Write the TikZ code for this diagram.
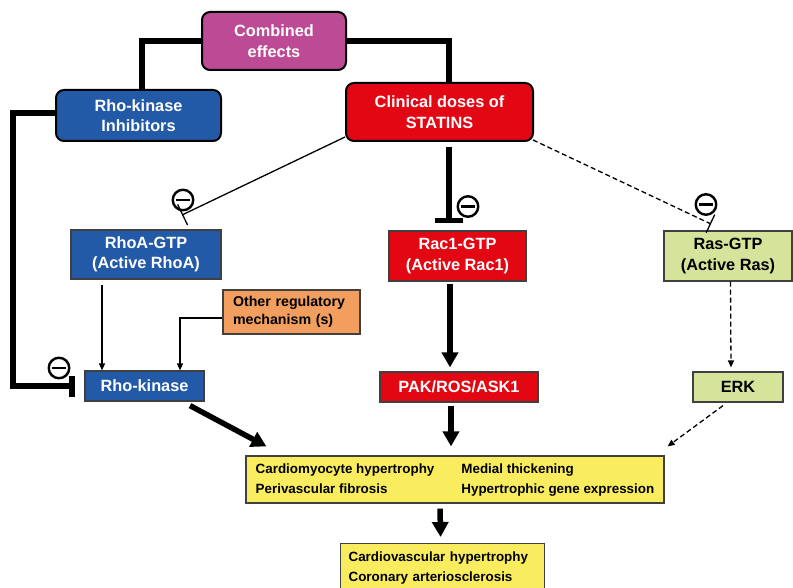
\documentclass[tikz,border=0pt]{standalone}
\usepackage{fontspec}
\setmainfont{Liberation Sans}
\usetikzlibrary{arrows.meta, positioning, calc}
\definecolor{plumfill}{RGB}{188,74,148}
\definecolor{rhoblue}{RGB}{34,90,168}
\definecolor{statinred}{RGB}{227,6,19}
\definecolor{rasgreen}{RGB}{214,227,154}
\definecolor{otherorange}{RGB}{241,158,94}
\definecolor{effectyellow}{RGB}{249,236,94}

\tikzset{
  roundbox/.style={draw=black, line width=2pt, rounded corners=8pt, text=white, align=center, inner sep=0pt, font=\bfseries\fontsize{16.3}{20.5}\selectfont},
  flatbox/.style={draw=black!75, line width=1.2pt, align=center, inner sep=0pt, font=\bfseries\fontsize{16.3}{20.5}\selectfont},
  heavy/.style={line width=5.5pt},
  fine/.style={line width=1.3pt},
  bigtip/.style={line width=5.5pt, -{Triangle[length=15pt,width=16pt]}},
  smalltip/.style={line width=1.3pt, -{Triangle[length=7pt,width=6pt]}},
  dashline/.style={dash pattern=on 5pt off 3pt},
  minussign/.style={circle, draw, line width=2.4pt, minimum size=20.5pt, inner sep=0pt,
    path picture={\draw[line width=2.6pt] ([xshift=3pt]path picture bounding box.west) -- ([xshift=-3pt]path picture bounding box.east);}},
}

\begin{document}
\begin{tikzpicture}[x=1pt, y=-1pt]
  \useasboundingbox (0,0) rectangle (793,588);
  \clip (0,0) rectangle (793,588);

  % top row
  \node[roundbox, fill=plumfill, minimum width=144pt, minimum height=58pt] (combined) at (274,41) {Combined\\effects};
  \node[roundbox, fill=rhoblue, minimum width=165pt, minimum height=51pt] (rki) at (138.5,115.5) {Rho-kinase\\Inhibitors};
  \node[roundbox, fill=statinred, minimum width=187pt, minimum height=58pt] (statins) at (439.5,112) {Clinical doses of\\STATINS};

  % GTP level
  \node[flatbox, fill=rhoblue, text=white, minimum width=150pt, minimum height=49pt] (rhoa) at (146,254.5) {RhoA-GTP\\(Active RhoA)};
  \node[flatbox, fill=statinred, text=white, minimum width=137pt, minimum height=50pt] (rac) at (457.5,256) {Rac1-GTP\\(Active Rac1)};
  \node[flatbox, fill=rasgreen, minimum width=128pt, minimum height=50pt] (ras) at (728,256) {Ras-GTP\\(Active Ras)};
  \node[flatbox, fill=otherorange, align=left, text width=117pt, minimum width=137pt, minimum height=44pt, font=\bfseries\fontsize{14.2}{18}\selectfont] (other) at (291.5,312) {Other regulatory\\mechanism (s)};

  % kinases
  \node[flatbox, fill=rhoblue, text=white, minimum width=119pt, minimum height=30pt] (rhok) at (144.5,386) {Rho-kinase};
  \node[flatbox, fill=statinred, text=white, minimum width=158pt, minimum height=30pt] (pak) at (459,387) {PAK/ROS/ASK1};
  \node[flatbox, fill=rasgreen, minimum width=90pt, minimum height=30pt] (erk) at (738,387) {ERK};

  % outcomes
  \node[flatbox, fill=effectyellow, minimum width=418pt, minimum height=47pt, font=\bfseries\fontsize{13.4}{20}\selectfont] (effects) at (455,479.5)
    {\begin{tabular}{@{}l@{\hspace{27pt}}l@{}}Cardiomyocyte hypertrophy & Medial thickening\\Perivascular fibrosis & Hypertrophic gene expression\end{tabular}};
  \node[flatbox, fill=effectyellow, anchor=north west, align=left, text width=188pt, text depth=22pt, inner xsep=8pt, inner ysep=8pt, font=\bfseries\fontsize{13.4}{20}\selectfont] (outcome) at (340,543)
    {Cardiovascular hypertrophy\\Coronary arteriosclerosis};

  % inhibition marks
  \node[minussign] (minusA) at (183,200) {};
  \node[minussign] (minusB) at (468,206.5) {};
  \node[minussign] (minusC) at (706,204.5) {};
  \node[minussign] (minusD) at (59,368) {};

  % combined effects
  \draw[heavy] (combined.west) -| ([xshift=3.5pt]rki.north);
  \draw[heavy] (combined.east) -| ([xshift=9.5pt]statins.north);

  % inhibitor rail
  \coordinate (rail) at (13,113);
  \draw[heavy, -{Bar[width=21pt,line width=6.5pt]}, shorten >=9pt] (rki.west |- rail) -- (rail) |- (rhok.west);

  % statin actions
  \coordinate (rhoaT) at (182,215);
  \coordinate (rasT) at (711,224);
  \draw[fine, -{Bar[width=23pt]}] ([yshift=5pt]statins.south west) -- (rhoaT);
  \draw[heavy, -{Bar[width=28pt,line width=5.5pt]}, shorten <=5pt, shorten >=7pt] ([xshift=9.5pt]statins.south) -- ([xshift=-8.5pt]rac.north);
  \draw[fine, dashline, -{Bar[width=20pt]}] ([shift={(-1pt,2pt)}]statins.south east) -- (rasT);

  % Rho pathway
  \draw[smalltip] ([xshift=-44pt,yshift=-5pt]rhoa.south) -- ([xshift=-42.5pt]rhok.north);
  \draw[smalltip] ([yshift=-6pt]other.west) -| ([xshift=35.5pt]rhok.north);
  \draw[bigtip] ([shift={(45.5pt,-4pt)}]rhok.south) -- ([shift={(21pt,9pt)}]effects.north west);

  % Rac pathway
  \draw[bigtip] ([shift={(-7.5pt,-2pt)}]rac.south) -- ([shift={(-9pt,4pt)}]pak.north);
  \draw[bigtip] ([shift={(-8pt,-3pt)}]pak.south) -- ([shift={(-4pt,9pt)}]effects.north);

  % Ras pathway
  \draw[smalltip, dashline] ([xshift=2.5pt]ras.south) -- ([shift={(-7pt,4pt)}]erk.north);
  \draw[smalltip, dashline] ([shift={(-15pt,-3pt)}]erk.south) -- ([shift={(3pt,9pt)}]effects.north east);

  \draw[bigtip] ([shift={(-15pt,-5pt)}]effects.south) -- ([shift={(-2pt,6pt)}]outcome.north);
\end{tikzpicture}
\end{document}
